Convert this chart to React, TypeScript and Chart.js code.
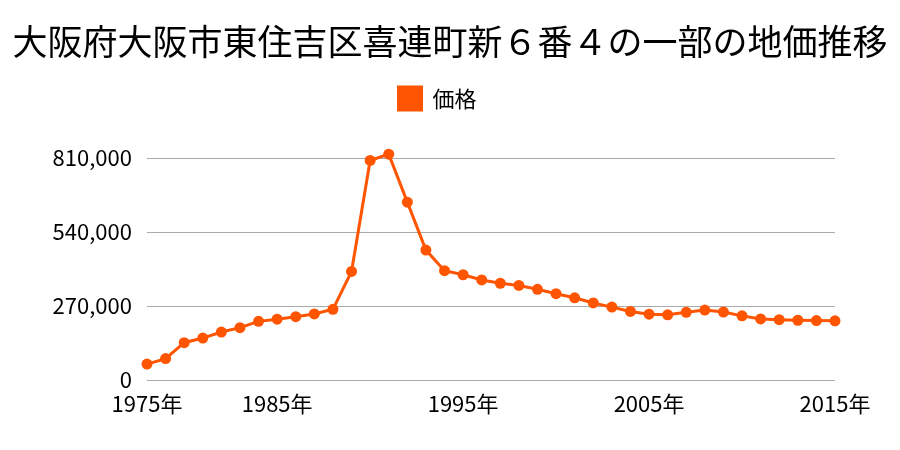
import React, { useEffect, useRef } from "react";
import { Chart, registerables } from "chart.js";

Chart.register(...registerables);

const TITLE = "大阪府大阪市東住吉区喜連町新６番４の一部の地価推移";
const SERIES_NAME = "価格";
const YEARS = [
  1975, 1979, 1980, 1981, 1982, 1983, 1984, 1985, 1986, 1987, 1988, 1989, 1990,
  1991, 1992, 1993, 1994, 1995, 1996, 1997, 1998, 1999, 2000, 2001, 2002, 2003,
  2004, 2005, 2006, 2007, 2008, 2009, 2010, 2011, 2012, 2013, 2014, 2015,
];
const PRICES = [
  58000, 78000, 136000, 153000, 175000, 191000, 214000, 222000, 231000, 241000,
  258000, 396000, 801000, 824000, 649000, 474000, 399000, 384000, 365000, 353000,
  345000, 331000, 315000, 300000, 281000, 266000, 250000, 240000, 238000, 247000,
  255000, 248000, 234000, 223000, 220000, 218000, 217000, 216000,
];
const Y_TICKS = [0, 270000, 540000, 810000];

const FONT = "'Noto Sans CJK JP', 'Noto Sans', sans-serif";
const COLOR = "#ff5500";

export default function App() {
  const ref = useRef<HTMLCanvasElement | null>(null);

  useEffect(() => {
    document.body.style.margin = "0";
    if (!ref.current) return;
    const spacer = {
      id: "legendSpacer",
      beforeInit(chart: any) {
        const legend = chart.legend;
        if (!legend) return;
        const orig = legend.fit;
        legend.fit = function () {
          orig.call(this);
          this.height += 38;
        };
      },
      afterLayout(chart: any) {
        if (chart.titleBlock) {
          chart.titleBlock.left = 0;
          chart.titleBlock.right = 900;
          chart.titleBlock.width = 900;
        }
        if (chart.legend) {
          chart.legend.left += 20;
          chart.legend.right += 20;
        }
      },
    };
    const chart = new Chart(ref.current, {
      type: "line",
      data: {
        labels: YEARS.map(String),
        datasets: [
          {
            label: SERIES_NAME,
            data: PRICES,
            borderColor: COLOR,
            backgroundColor: COLOR,
            borderWidth: 3,
            pointRadius: 5.5,
            pointBorderWidth: 0,
            pointBackgroundColor: COLOR,
            tension: 0,
            clip: false as any,
          },
        ],
      },
      options: {
        animation: false,
        responsive: false,
        maintainAspectRatio: false,
        layout: { padding: { left: 0, right: 65, top: 0, bottom: 0 } },
        plugins: {
          title: {
            display: true,
            text: TITLE,
            color: "#000",
            font: { family: FONT, size: 35, weight: "normal" },
            padding: { top: 21, bottom: 14 },
          },
          legend: {
            display: true,
            labels: {
              boxWidth: 23,
              boxHeight: 23,
              color: "#000",
              font: { family: FONT, size: 22 },
              padding: 10,
            },
          },
          tooltip: { enabled: false },
        },
        scales: {
          x: {
            offset: false,
            grid: { display: false, drawTicks: false },
            border: { display: false },
            ticks: {
              autoSkip: false,
              maxRotation: 0,
              minRotation: 0,
              padding: 10,
              color: "#000",
              font: { family: FONT, size: 22 },
              callback: function (this: any, value: any) {
                const y = Number(this.getLabelForValue(value));
                return y % 10 === 5 ? `${y}年` : "";
              },
            },
            afterFit(scale: any) {
              scale.height = 70;
            },
          },
          y: {
            min: 0,
            max: 810000,
            grid: { color: "#aaaaaa", lineWidth: 1, drawTicks: false },
            border: { display: false },
            afterBuildTicks(scale: any) {
              scale.ticks = Y_TICKS.map((v) => ({ value: v }));
            },
            ticks: {
              padding: 15,
              color: "#000",
              font: { family: FONT, size: 22 },
              callback: (v: any) => Number(v).toLocaleString("en-US"),
            },
            afterFit(scale: any) {
              scale.width = 147;
            },
          },
        },
      },
      plugins: [spacer],
    });
    return () => chart.destroy();
  }, []);

  return (
    <div style={{ width: 900, height: 450 }}>
      <canvas ref={ref} width={900} height={450} style={{ display: "block" }} />
    </div>
  );
}
